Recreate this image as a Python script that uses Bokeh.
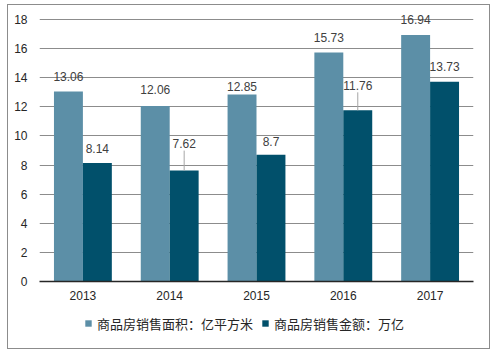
from bokeh.plotting import figure
from bokeh.layouts import column
from bokeh.models import (ColumnDataSource, FactorRange, Legend, LegendItem, SingleIntervalTicker,
                          InlineStyleSheet, Range1d)
from bokeh.transform import dodge
from bokeh.core.properties import value
from bokeh.embed import file_html
from bokeh.resources import INLINE

years = ["2013", "2014", "2015", "2016", "2017"]
area = [13.06, 12.06, 12.85, 15.73, 16.94]
amount = [8.14, 7.62, 8.7, 11.76, 13.73]
area_labels = ["13.06", "12.06", "12.85", "15.73", "16.94"]
amount_labels = ["8.14", "7.62", "8.7", "11.76", "13.73"]
series_names = ["商品房销售面积：亿平方米", "商品房销售金额：万亿"]

# label placement (pixels above bar top)
area_off = [15, 16, 8, 15, 15]
amount_off = [15, 27, 13, 25, 15]
amount_leader = [False, True, False, True, False]

LIGHT = "#5C8FA7"
DARK = "#01506B"

W, H = 496, 355
MAIN_H = 311
L, R, B = 39, 23, 30
axis_top_px = 19           # pixel row of the 18 gridline
y_max = 18
FH = MAIN_H - B            # frame height
px_per_unit = (FH - axis_top_px) / y_max
y_end = y_max + axis_top_px / px_per_unit

src = ColumnDataSource(dict(
    year=years, area=area, amount=amount,
    area_lbl=area_labels, amount_lbl=amount_labels,
    area_off=[-o for o in area_off], amount_off=[-o for o in amount_off],
))

p = figure(x_range=FactorRange(factors=years, range_padding=0), y_range=(0, y_end),
           width=W, height=MAIN_H, output_backend="svg", toolbar_location=None,
           min_border_left=L, min_border_right=R, min_border_top=0, min_border_bottom=B)
p.outline_line_color = None
p.background_fill_color = None
p.border_fill_color = None

r1 = p.vbar(x=dodge("year", -1/6, range=p.x_range), top="area", width=1/3, source=src,
            fill_color=LIGHT, line_color=None)
r2 = p.vbar(x=dodge("year", 1/6, range=p.x_range), top="amount", width=1/3, source=src,
            fill_color=DARK, line_color=None)

# leader lines
lx, ly0, ly1 = [], [], []
for i, flag in enumerate(amount_leader):
    if flag:
        lx.append(years[i])
        ly0.append(amount[i])
        ly1.append(amount[i] + (amount_off[i] - 7) / px_per_unit)
lsrc = ColumnDataSource(dict(x=lx, y0=ly0, y1=ly1))
p.segment(x0=dodge("x", 1/6, range=p.x_range), y0="y0", x1=dodge("x", 1/6, range=p.x_range), y1="y1",
          source=lsrc, line_color="#A6A6A6", line_width=1)

for xcol, ycol, tcol, ocol, dx in [("year", "area", "area_lbl", "area_off", -1/6),
                                   ("year", "amount", "amount_lbl", "amount_off", 1/6)]:
    p.text(x=dodge(xcol, dx, range=p.x_range), y=ycol, text=tcol, y_offset=ocol, source=src,
           text_align="center", text_baseline="middle", text_font=value("Liberation Sans"),
           text_font_size="12px", text_color="#404040")

p.xgrid.grid_line_color = None
p.ygrid.grid_line_color = "#8C8C8C"
p.ygrid.grid_line_width = 1
p.yaxis.ticker = SingleIntervalTicker(interval=2)
p.yaxis.axis_line_color = None
p.yaxis.major_tick_line_color = None
p.yaxis.minor_tick_line_color = None
p.yaxis.major_tick_out = 0
p.yaxis.major_tick_in = 0
p.yaxis.major_label_text_font = "Liberation Sans"
p.yaxis.major_label_text_font_size = "12px"
p.yaxis.major_label_text_color = "#262626"
p.yaxis.major_label_standoff = 8
p.xaxis.axis_line_color = "#262626"
p.xaxis.axis_line_width = 1.5
p.xaxis.major_tick_line_color = None
p.xaxis.minor_tick_line_color = None
p.xaxis.major_tick_out = 0
p.xaxis.major_tick_in = 0
p.xaxis.major_label_text_font = "Liberation Sans"
p.xaxis.major_label_text_font_size = "12px"
p.xaxis.major_label_text_color = "#262626"
p.xaxis.major_label_standoff = 9

# legend strip below the chart
LEG_H = H - MAIN_H
pl = figure(width=W, height=LEG_H, output_backend="svg", toolbar_location=None,
            x_range=Range1d(0, 1), y_range=Range1d(0, 1),
            x_axis_location=None, y_axis_location=None,
            min_border_left=0, min_border_right=0, min_border_top=0, min_border_bottom=0)
pl.grid.visible = False
pl.outline_line_color = None
pl.background_fill_color = None
pl.border_fill_color = None
# swatch renderers for the legend (one row each, kept outside the visible range)
swatch = ColumnDataSource(dict(x=[-10.0], top=[-10.0]))
g1 = pl.vbar(x="x", top="top", width=0.1, source=swatch, fill_color=LIGHT, line_color=None)
g2 = pl.vbar(x="x", top="top", width=0.1, source=swatch, fill_color=DARK, line_color=None)
legend = Legend(items=[LegendItem(label=series_names[0], renderers=[g1]),
                       LegendItem(label=series_names[1], renderers=[g2])],
                orientation="horizontal", location=(45, LEG_H - 22),
                label_text_font="Noto Sans CJK SC", label_text_font_size="13px",
                label_text_color="#262626", label_height=20,
                glyph_width=8, glyph_height=8, label_standoff=5, spacing=8,
                border_line_color=None, background_fill_alpha=0, padding=0, margin=0)
pl.add_layout(legend)

root = column(p, pl, spacing=0)
root.stylesheets = [InlineStyleSheet(css="""
:host { position: relative; background: white; }
:host::after {
  content: ""; position: absolute; left: 7px; top: 4px; width: 481px; height: 343px;
  border: 1.5px solid #8C8C8C; pointer-events: none; z-index: 10;
}
""")]

open("out.html", "w").write(file_html(root, INLINE))
